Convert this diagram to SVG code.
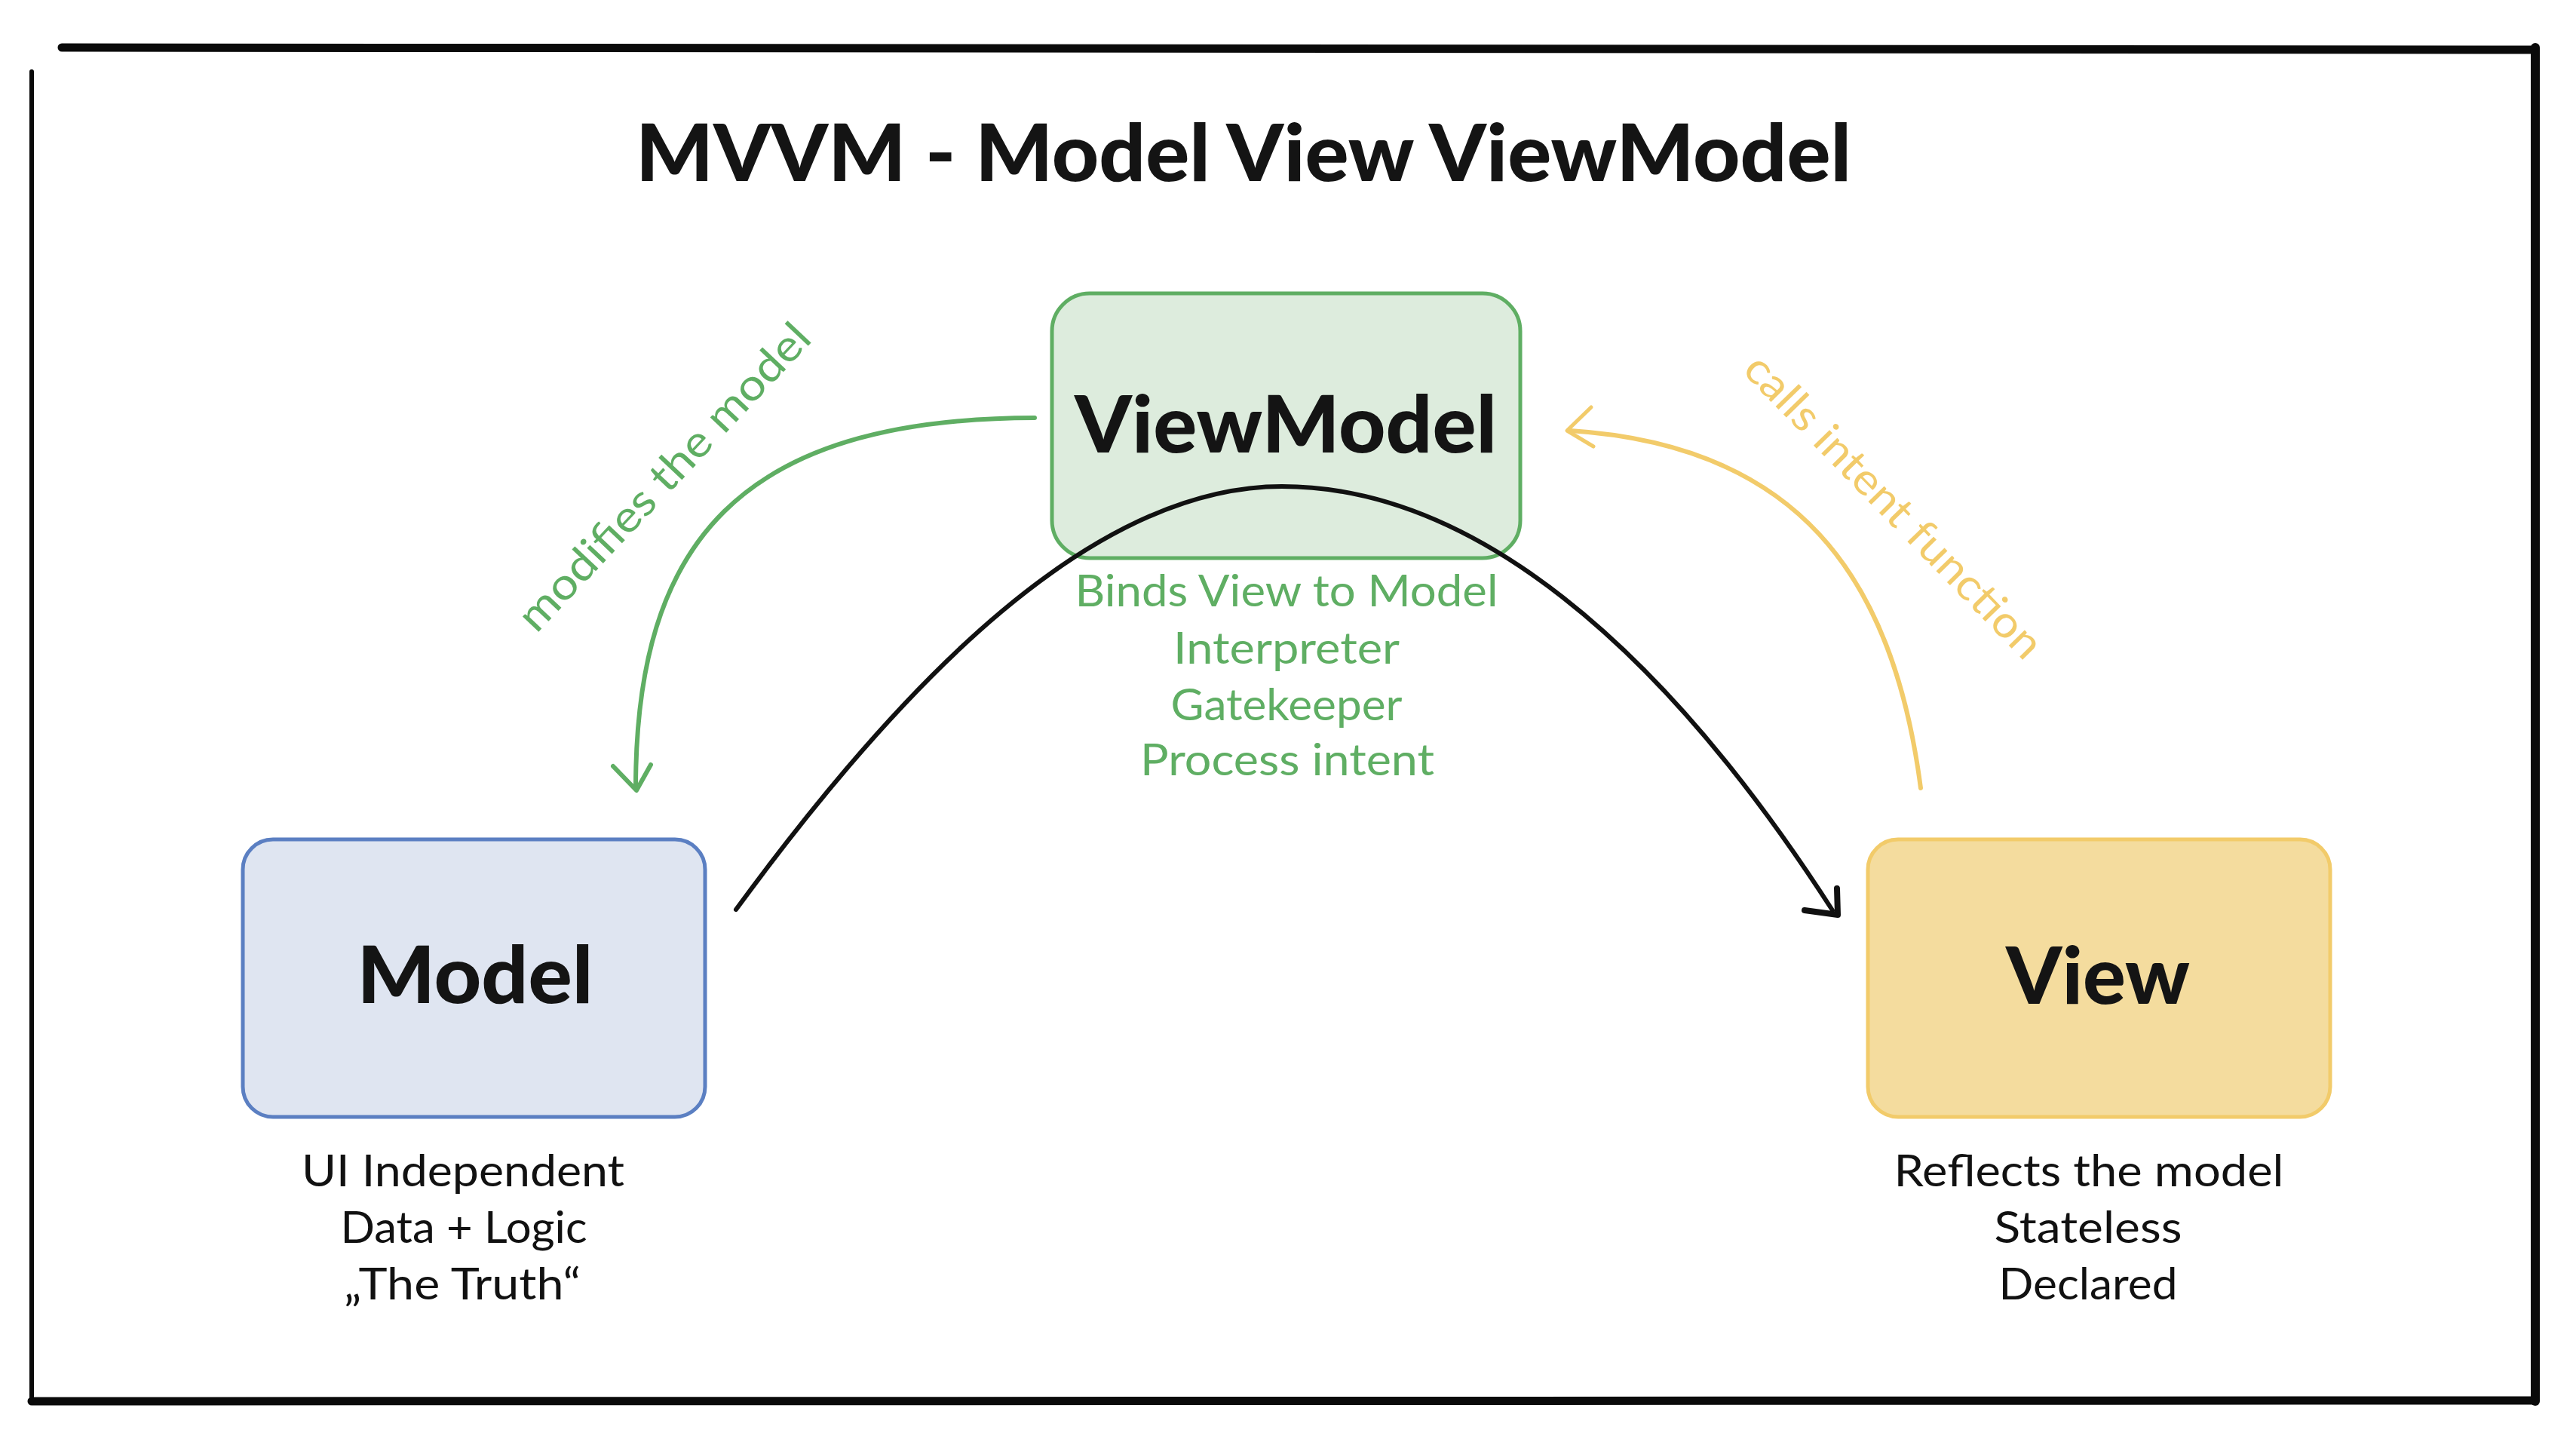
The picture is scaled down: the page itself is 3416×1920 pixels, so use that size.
<svg xmlns="http://www.w3.org/2000/svg" width="3416" height="1920" viewBox="0 0 3416 1920">
<style>
.frame{fill:none;stroke:#0a0a0a;stroke-linecap:round}
.box{stroke-width:5}
.title{font-family:Lato,"Noto Sans","Liberation Sans",sans-serif;font-weight:900;fill:#141414}
.big{font-family:Lato,"Noto Sans","Liberation Sans",sans-serif;font-weight:900;font-size:104px;fill:#141414;text-anchor:middle}
.sub{font-family:Lato,"Noto Sans","Liberation Sans",sans-serif;font-weight:400;font-size:58px;text-anchor:middle}
.dark{fill:#111}
.green{fill:#5fae63}
.yellow{fill:#f2cb6a}
.conn{fill:none;stroke-linecap:round;stroke-linejoin:round}
</style>
<rect width="3416" height="1920" fill="#ffffff"/>
<g id="frame">
<path class="frame" d="M82,63 L3362,66" stroke-width="11"/>
<path class="frame" d="M3362,63 L3362,1858" stroke-width="12"/>
<path class="frame" d="M42,1858 L3362,1857" stroke-width="11"/>
<path class="frame" d="M42,95 L42,1858" stroke-width="6"/>
</g>
<text class="title" x="1649" y="240" font-size="104" text-anchor="middle" textLength="1612" lengthAdjust="spacingAndGlyphs">MVVM - Model View ViewModel</text>
<g id="viewmodel">
<rect class="box" x="1395" y="389" width="621" height="351" rx="50" fill="#ddecdd" stroke="#5fae63"/>
<text class="big" x="1705" y="600" textLength="560" lengthAdjust="spacingAndGlyphs">ViewModel</text>
<text class="sub green" x="1706" y="804" textLength="561" lengthAdjust="spacingAndGlyphs">Binds View to Model</text>
<text class="sub green" x="1706" y="880" textLength="300" lengthAdjust="spacingAndGlyphs">Interpreter</text>
<text class="sub green" x="1706" y="955" textLength="307" lengthAdjust="spacingAndGlyphs">Gatekeeper</text>
<text class="sub green" x="1707" y="1028" textLength="390" lengthAdjust="spacingAndGlyphs">Process intent</text>
</g>
<g id="model">
<rect class="box" x="322" y="1113" width="613" height="368" rx="40" fill="#dfe5f1" stroke="#5b7fc2"/>
<text class="big" x="630" y="1330" textLength="313" lengthAdjust="spacingAndGlyphs">Model</text>
<text class="sub dark" x="614" y="1573" textLength="428" lengthAdjust="spacingAndGlyphs">UI Independent</text>
<text class="sub dark" x="615" y="1648" textLength="327" lengthAdjust="spacingAndGlyphs">Data + Logic</text>
<text class="sub dark" x="613" y="1723" textLength="314" lengthAdjust="spacingAndGlyphs">„The Truth“</text>
</g>
<g id="view">
<rect class="box" x="2477" y="1113" width="613" height="368" rx="40" fill="#f4dc9e" stroke="#f2cb6a"/>
<text class="big" x="2782" y="1331" textLength="244" lengthAdjust="spacingAndGlyphs">View</text>
<text class="sub dark" x="2770" y="1573" textLength="517" lengthAdjust="spacingAndGlyphs">Reflects the model</text>
<text class="sub dark" x="2769" y="1648" textLength="249" lengthAdjust="spacingAndGlyphs">Stateless</text>
<text class="sub dark" x="2769" y="1723" textLength="237" lengthAdjust="spacingAndGlyphs">Declared</text>
</g>
<g id="connectors">
<path class="conn" d="M976,1206 C1200,900 1450,645 1700,645 C1950,645 2200,850 2430,1207" stroke="#111" stroke-width="6"/>
<path class="conn" d="M2436,1178 L2437,1213 L2393,1207" stroke="#111" stroke-width="8"/>
<path class="conn" d="M1372,554 C980,555 843,720 843,1045" stroke="#5fae63" stroke-width="6"/>
<path class="conn" d="M813,1016 L844,1048 L863,1014" stroke="#5fae63" stroke-width="6"/>
<path class="conn" d="M2547,1045 C2510,760 2380,590 2082,571" stroke="#f2cb6a" stroke-width="6"/>
<path class="conn" d="M2110,540 L2078,571 L2113,592" stroke="#f2cb6a" stroke-width="5"/>
</g>
<text class="sub green" transform="translate(895,646) rotate(-46.7)" x="0" y="0" textLength="536" lengthAdjust="spacingAndGlyphs">modifies the model</text>
<text class="sub yellow" transform="translate(2497,685) rotate(45.7)" x="0" y="0" textLength="538" lengthAdjust="spacingAndGlyphs">calls intent function</text>
</svg>
